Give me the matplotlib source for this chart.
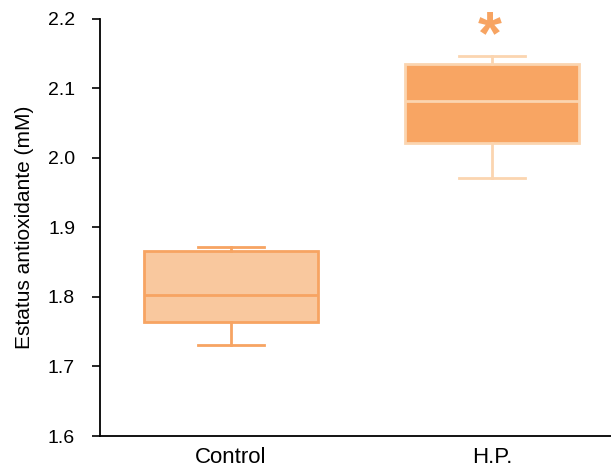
import matplotlib.pyplot as plt

groups = ['Control', 'H.P.']
whislo = [1.731, 1.971]
q1 = [1.764, 2.022]
med = [1.803, 2.082]
q3 = [1.866, 2.135]
whishi = [1.872, 2.147]

fills = ['#F9C89E', '#F8A563']
edges = ['#F7A462', '#FBD5B0']

plt.rcParams['font.family'] = ['Liberation Sans', 'DejaVu Sans']

fig = plt.figure(figsize=(6.11, 4.7), dpi=100)
ax = fig.add_axes([0.1637, 0.0723, 0.8363, 0.8877])

for i in range(len(groups)):
    stats = [dict(label=groups[i], whislo=whislo[i], q1=q1[i], med=med[i],
                  q3=q3[i], whishi=whishi[i], fliers=[])]
    ax.bxp(stats, positions=[i + 1], widths=0.67, patch_artist=True,
           showfliers=False,
           boxprops=dict(facecolor=fills[i], edgecolor=edges[i], linewidth=2),
           medianprops=dict(color=edges[i], linewidth=2),
           whiskerprops=dict(color=edges[i], linewidth=2),
           capprops=dict(color=edges[i], linewidth=2),
           capwidths=0.25)

ax.text(1.99, 2.173, '*', ha='center', va='center', fontsize=44,
        color='#F7A462', fontweight='bold', clip_on=False)

ax.set_xlim(0.498, 2.456)
ax.set_ylim(1.6, 2.2)
ax.set_yticks([1.6, 1.7, 1.8, 1.9, 2.0, 2.1, 2.2])
ax.set_yticklabels(['1.6', '1.7', '1.8', '1.9', '2.0', '2.1', '2.2'])
ax.set_xticks([1, 2])
ax.set_xticklabels(groups)
ax.tick_params(axis='y', labelsize=14, length=6, width=1.2, pad=12)
ax.tick_params(axis='x', labelsize=16, length=0, pad=8)
ax.set_ylabel('Estatus antioxidante (mM)', fontsize=15, labelpad=10)

for s in ['top', 'right']:
    ax.spines[s].set_visible(False)
ax.spines['left'].set_linewidth(1.3)
ax.spines['bottom'].set_linewidth(1.3)

fig.savefig('out.png', dpi=100)
